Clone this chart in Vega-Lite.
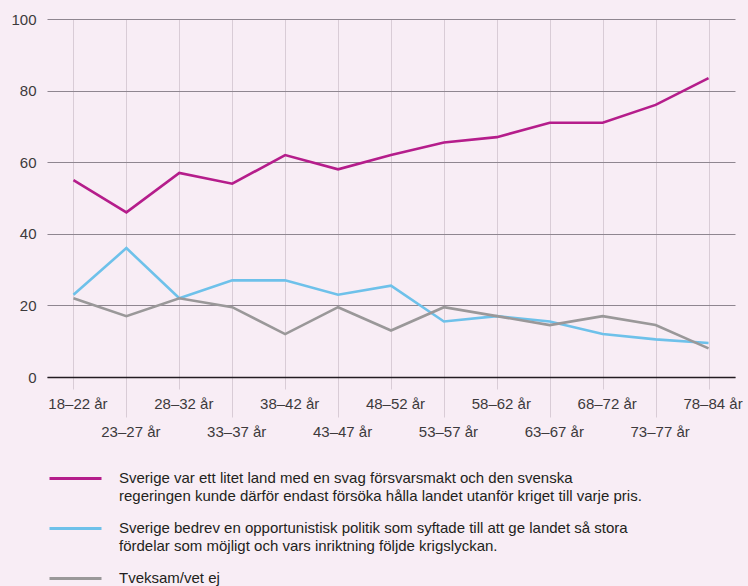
{
  "$schema": "https://vega.github.io/schema/vega-lite/v6.json",
  "autosize": "none",
  "width": 688,
  "height": 358,
  "padding": {"left": 47, "top": 19, "right": 13, "bottom": 209},
  "background": "#f8edf5",
  "config": {
    "view": {"stroke": null},
    "font": "Liberation Sans"
  },
  "data": {
    "values": [
      {"alder": "18–22 år", "serie": "Sverige var ett litet land med en svag försvarsmakt och den svenska\nregeringen kunde därför endast försöka hålla landet utanför kriget till varje pris.", "andel": 55},
      {"alder": "23–27 år", "serie": "Sverige var ett litet land med en svag försvarsmakt och den svenska\nregeringen kunde därför endast försöka hålla landet utanför kriget till varje pris.", "andel": 46},
      {"alder": "28–32 år", "serie": "Sverige var ett litet land med en svag försvarsmakt och den svenska\nregeringen kunde därför endast försöka hålla landet utanför kriget till varje pris.", "andel": 57},
      {"alder": "33–37 år", "serie": "Sverige var ett litet land med en svag försvarsmakt och den svenska\nregeringen kunde därför endast försöka hålla landet utanför kriget till varje pris.", "andel": 54},
      {"alder": "38–42 år", "serie": "Sverige var ett litet land med en svag försvarsmakt och den svenska\nregeringen kunde därför endast försöka hålla landet utanför kriget till varje pris.", "andel": 62},
      {"alder": "43–47 år", "serie": "Sverige var ett litet land med en svag försvarsmakt och den svenska\nregeringen kunde därför endast försöka hålla landet utanför kriget till varje pris.", "andel": 58},
      {"alder": "48–52 år", "serie": "Sverige var ett litet land med en svag försvarsmakt och den svenska\nregeringen kunde därför endast försöka hålla landet utanför kriget till varje pris.", "andel": 62},
      {"alder": "53–57 år", "serie": "Sverige var ett litet land med en svag försvarsmakt och den svenska\nregeringen kunde därför endast försöka hålla landet utanför kriget till varje pris.", "andel": 65.5},
      {"alder": "58–62 år", "serie": "Sverige var ett litet land med en svag försvarsmakt och den svenska\nregeringen kunde därför endast försöka hålla landet utanför kriget till varje pris.", "andel": 67},
      {"alder": "63–67 år", "serie": "Sverige var ett litet land med en svag försvarsmakt och den svenska\nregeringen kunde därför endast försöka hålla landet utanför kriget till varje pris.", "andel": 71},
      {"alder": "68–72 år", "serie": "Sverige var ett litet land med en svag försvarsmakt och den svenska\nregeringen kunde därför endast försöka hålla landet utanför kriget till varje pris.", "andel": 71},
      {"alder": "73–77 år", "serie": "Sverige var ett litet land med en svag försvarsmakt och den svenska\nregeringen kunde därför endast försöka hålla landet utanför kriget till varje pris.", "andel": 76},
      {"alder": "78–84 år", "serie": "Sverige var ett litet land med en svag försvarsmakt och den svenska\nregeringen kunde därför endast försöka hålla landet utanför kriget till varje pris.", "andel": 83.5},
      {"alder": "18–22 år", "serie": "Sverige bedrev en opportunistisk politik som syftade till att ge landet så stora\nfördelar som möjligt och vars inriktning följde krigslyckan.", "andel": 23},
      {"alder": "23–27 år", "serie": "Sverige bedrev en opportunistisk politik som syftade till att ge landet så stora\nfördelar som möjligt och vars inriktning följde krigslyckan.", "andel": 36},
      {"alder": "28–32 år", "serie": "Sverige bedrev en opportunistisk politik som syftade till att ge landet så stora\nfördelar som möjligt och vars inriktning följde krigslyckan.", "andel": 22},
      {"alder": "33–37 år", "serie": "Sverige bedrev en opportunistisk politik som syftade till att ge landet så stora\nfördelar som möjligt och vars inriktning följde krigslyckan.", "andel": 27},
      {"alder": "38–42 år", "serie": "Sverige bedrev en opportunistisk politik som syftade till att ge landet så stora\nfördelar som möjligt och vars inriktning följde krigslyckan.", "andel": 27},
      {"alder": "43–47 år", "serie": "Sverige bedrev en opportunistisk politik som syftade till att ge landet så stora\nfördelar som möjligt och vars inriktning följde krigslyckan.", "andel": 23},
      {"alder": "48–52 år", "serie": "Sverige bedrev en opportunistisk politik som syftade till att ge landet så stora\nfördelar som möjligt och vars inriktning följde krigslyckan.", "andel": 25.5},
      {"alder": "53–57 år", "serie": "Sverige bedrev en opportunistisk politik som syftade till att ge landet så stora\nfördelar som möjligt och vars inriktning följde krigslyckan.", "andel": 15.5},
      {"alder": "58–62 år", "serie": "Sverige bedrev en opportunistisk politik som syftade till att ge landet så stora\nfördelar som möjligt och vars inriktning följde krigslyckan.", "andel": 17},
      {"alder": "63–67 år", "serie": "Sverige bedrev en opportunistisk politik som syftade till att ge landet så stora\nfördelar som möjligt och vars inriktning följde krigslyckan.", "andel": 15.5},
      {"alder": "68–72 år", "serie": "Sverige bedrev en opportunistisk politik som syftade till att ge landet så stora\nfördelar som möjligt och vars inriktning följde krigslyckan.", "andel": 12},
      {"alder": "73–77 år", "serie": "Sverige bedrev en opportunistisk politik som syftade till att ge landet så stora\nfördelar som möjligt och vars inriktning följde krigslyckan.", "andel": 10.5},
      {"alder": "78–84 år", "serie": "Sverige bedrev en opportunistisk politik som syftade till att ge landet så stora\nfördelar som möjligt och vars inriktning följde krigslyckan.", "andel": 9.5},
      {"alder": "18–22 år", "serie": "Tveksam/vet ej", "andel": 22},
      {"alder": "23–27 år", "serie": "Tveksam/vet ej", "andel": 17},
      {"alder": "28–32 år", "serie": "Tveksam/vet ej", "andel": 22},
      {"alder": "33–37 år", "serie": "Tveksam/vet ej", "andel": 19.5},
      {"alder": "38–42 år", "serie": "Tveksam/vet ej", "andel": 12},
      {"alder": "43–47 år", "serie": "Tveksam/vet ej", "andel": 19.5},
      {"alder": "48–52 år", "serie": "Tveksam/vet ej", "andel": 13},
      {"alder": "53–57 år", "serie": "Tveksam/vet ej", "andel": 19.5},
      {"alder": "58–62 år", "serie": "Tveksam/vet ej", "andel": 17},
      {"alder": "63–67 år", "serie": "Tveksam/vet ej", "andel": 14.5},
      {"alder": "68–72 år", "serie": "Tveksam/vet ej", "andel": 17},
      {"alder": "73–77 år", "serie": "Tveksam/vet ej", "andel": 14.5},
      {"alder": "78–84 år", "serie": "Tveksam/vet ej", "andel": 8}
    ]
  },
  "mark": {"type": "line", "strokeWidth": 2.6, "strokeJoin": "miter"},
  "encoding": {
    "x": {
      "field": "alder",
      "type": "ordinal",
      "sort": null,
      "scale": {"type": "point", "padding": 0.5},
      "axis": {
        "title": null,
        "labelAngle": 0,
        "grid": true,
        "gridColor": "#d9ccd6",
        "gridWidth": 1,
        "domain": true,
        "domainColor": "#231c22",
        "domainWidth": 1.4,
        "ticks": true,
        "tickColor": "#d9ccd6",
        "tickSize": {"condition": {"test": "indexof(['23–27 år','33–37 år','43–47 år','53–57 år','63–67 år','73–77 år'], datum.value) >= 0", "value": 40}, "value": 12},
        "labelPadding": 7,
        "labelBaseline": "top",
        "labelOffset": 4,
        "labelFont": "Liberation Sans",
        "labelFontSize": 15,
        "labelColor": "#3d3a3c",
        "labelOverlap": false,
        "labelFlush": false
      }
    },
    "y": {
      "field": "andel",
      "type": "quantitative",
      "scale": {"domain": [0, 100]},
      "axis": {
        "title": null,
        "values": [0, 20, 40, 60, 80, 100],
        "grid": true,
        "gridColor": "#8f8690",
        "gridWidth": 1.2,
        "domain": false,
        "ticks": false,
        "labelPadding": 11,
        "labelFont": "Liberation Sans",
        "labelFontSize": 15,
        "labelColor": "#3d3a3c"
      }
    },
    "color": {
      "field": "serie",
      "type": "nominal",
      "sort": null,
      "scale": {
        "domain": [
          "Sverige var ett litet land med en svag försvarsmakt och den svenska\nregeringen kunde därför endast försöka hålla landet utanför kriget till varje pris.",
          "Sverige bedrev en opportunistisk politik som syftade till att ge landet så stora\nfördelar som möjligt och vars inriktning följde krigslyckan.",
          "Tveksam/vet ej"
        ],
        "range": ["#b51d8b", "#6ec1ea", "#9a9899"]
      },
      "legend": {
        "title": null,
        "orient": "none",
        "legendX": 14,
        "legendY": 445,
        "direction": "vertical",
        "padding": 0,
        "symbolType": "M-2,0H2",
        "symbolSize": 676,
        "symbolStrokeWidth": 3,
        "labelOffset": 29,
        "labelFont": "Liberation Sans",
        "labelFontSize": 15,
        "labelColor": "#231f20",
        "labelLimit": 700,
        "labelBaseline": "top",
        "rowPadding": 10,
        "encode": {
          "labels": {"update": {"lineBreak": {"value": "\n"}, "lineHeight": {"value": 18.5}, "dy": {"value": -8}}}
        }
      }
    }
  }
}
